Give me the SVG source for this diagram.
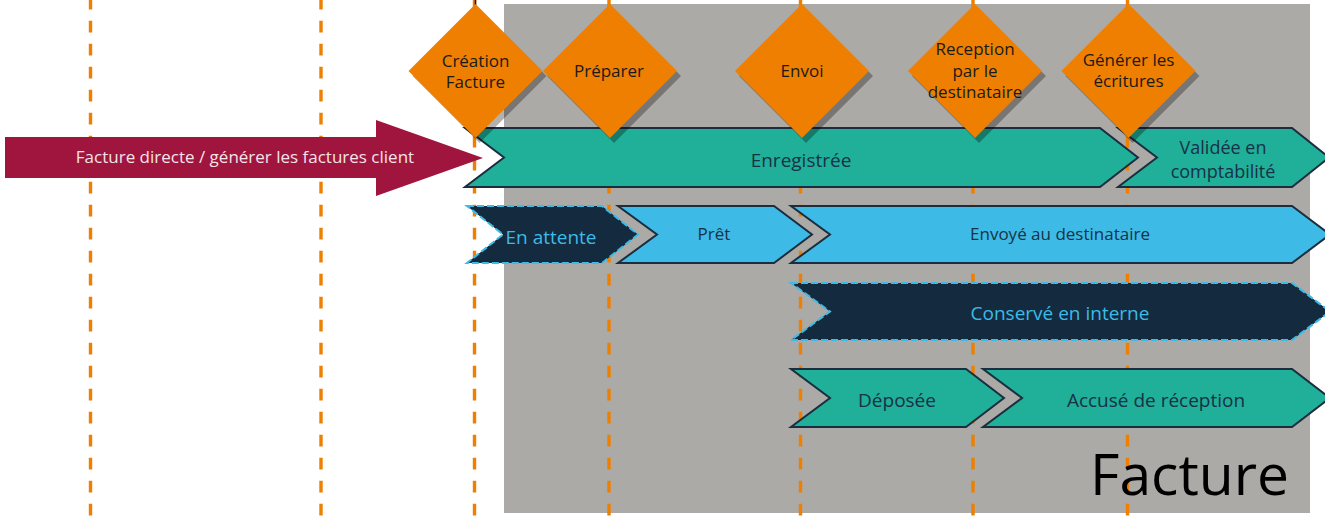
<svg xmlns="http://www.w3.org/2000/svg" width="1325" height="520" viewBox="0 0 1325 520">
<style>
.bg{fill:#ffffff}
.panel{fill:#ABAAA6}
.guide{stroke:#EE7F00;stroke-width:3.4;stroke-dasharray:11.7 11.3;stroke-dashoffset:2.3;fill:none}
.dia{fill:#EE7F00}
.shadow{fill:#000000;fill-opacity:0.3}
.teal{fill:#20AF98;stroke:#1B2D3E;stroke-width:2}
.blue{fill:#3DBBE6;stroke:#1B2D3E;stroke-width:2}
.navy{fill:#132A3F;stroke:#3DBBE6;stroke-width:2;stroke-dasharray:7 3}
.red{fill:#A0153E}
text{font-family:"Open Sans","Noto Sans","Liberation Sans",sans-serif;text-anchor:middle}
.dt{font-size:17px;fill:#1A1A1A}
.bt{font-size:19px;fill:#173247}
.vt{font-size:18px;fill:#173247}
.st{font-size:17px;fill:#173247}
.lt{font-size:19px;fill:#3DBBE6}
.wt{font-size:17px;fill:#F3E3E8}
.big{font-size:57px;fill:#000000;text-anchor:end}
</style>
<rect class="bg" x="0" y="0" width="1325" height="520"/>
<rect id="panel" class="panel" x="504" y="4" width="806" height="509"/>
<g id="connectors">
<line class="guide" x1="90.5" y1="0" x2="90.5" y2="520"/>
<line class="guide" x1="321" y1="0" x2="321" y2="520"/>
<line class="guide" x1="474.5" y1="0" x2="474.5" y2="520"/>
<line class="guide" x1="609" y1="0" x2="609" y2="520"/>
<line class="guide" x1="800.5" y1="0" x2="800.5" y2="520"/>
<line class="guide" x1="973" y1="0" x2="973" y2="520"/>
<line class="guide" x1="1127.5" y1="0" x2="1127.5" y2="520"/>
<line x1="475.5" y1="0" x2="475.5" y2="5" stroke="#1A1A1A" stroke-width="1.5"/>
</g>
<g id="enregistree">
<path class="teal" d="M465,128 H1100 L1138,157.5 L1100,187 H465 L504,157.5 Z"/>
<text class="bt" x="801" y="167">Enregistrée</text>
</g>
<g id="validee">
<path class="teal" d="M1118,128 H1292 L1329,157.5 L1292,187 H1118 L1157,157.5 Z"/>
<text class="vt" x="1223" y="154">Validée en</text>
<text class="vt" x="1223" y="178">comptabilité</text>
</g>
<g id="en-attente">
<path class="navy" d="M467,206 H602 L638,234.5 L602,263 H467 L503,234.5 Z"/>
<text class="lt" x="551" y="244">En attente</text>
</g>
<g id="pret">
<path class="blue" d="M618,206 H774 L812,234.5 L774,263 H618 L657,234.5 Z"/>
<text class="st" x="714" y="240">Prêt</text>
</g>
<g id="envoye">
<path class="blue" d="M791,206 H1292 L1330,234.5 L1292,263 H791 L830,234.5 Z"/>
<text class="st" x="1060" y="240">Envoyé au destinataire</text>
</g>
<g id="conserve">
<path class="navy" d="M791,283 H1292 L1330,311.5 L1292,340 H791 L830,311.5 Z"/>
<text class="lt" x="1060" y="320">Conservé en interne</text>
</g>
<g id="deposee">
<path class="teal" d="M791,369 H966 L1004,398 L966,427 H791 L830,398 Z"/>
<text class="bt" x="897" y="407">Déposée</text>
</g>
<g id="accuse">
<path class="teal" d="M983,369 H1292 L1330,398 L1292,427 H983 L1022,398 Z"/>
<text class="bt" x="1156" y="407">Accusé de réception</text>
</g>
<g id="facture-directe">
<path class="red" d="M5,137 H376 V120 L483,158 L376,196 V178 H5 Z"/>
<text class="wt" x="245" y="163">Facture directe / générer les factures client</text>
</g>
<g id="creation-facture">
<path class="shadow" d="M479.5,9 L546.5,76 L479.5,143 L412.5,76 Z"/>
<path class="dia" d="M475.5,4 L542.5,71 L475.5,138 L408.5,71 Z"/>
<text class="dt" x="475.5" y="67">Création</text>
<text class="dt" x="475.5" y="88">Facture</text>
</g>
<g id="preparer">
<path class="shadow" d="M614,9 L681,76 L614,143 L547,76 Z"/>
<path class="dia" d="M610,4 L677,71 L610,138 L543,71 Z"/>
<text class="dt" x="609" y="77">Préparer</text>
</g>
<g id="envoi">
<path class="shadow" d="M806,9 L873,76 L806,143 L739,76 Z"/>
<path class="dia" d="M802,4 L869,71 L802,138 L735,71 Z"/>
<text class="dt" x="802" y="77">Envoi</text>
</g>
<g id="reception">
<path class="shadow" d="M979,9 L1046,76 L979,143 L912,76 Z"/>
<path class="dia" d="M975,4 L1042,71 L975,138 L908,71 Z"/>
<text class="dt" x="975" y="55">Reception</text>
<text class="dt" x="975" y="76.5">par le</text>
<text class="dt" x="975" y="98">destinataire</text>
</g>
<g id="generer">
<path class="shadow" d="M1132.5,9 L1199.5,76 L1132.5,143 L1065.5,76 Z"/>
<path class="dia" d="M1128.5,4 L1195.5,71 L1128.5,138 L1061.5,71 Z"/>
<text class="dt" x="1128.5" y="66">Générer les</text>
<text class="dt" x="1128.5" y="87">écritures</text>
</g>
<text id="title" class="big" x="1289" y="495">Facture</text>
</svg>
